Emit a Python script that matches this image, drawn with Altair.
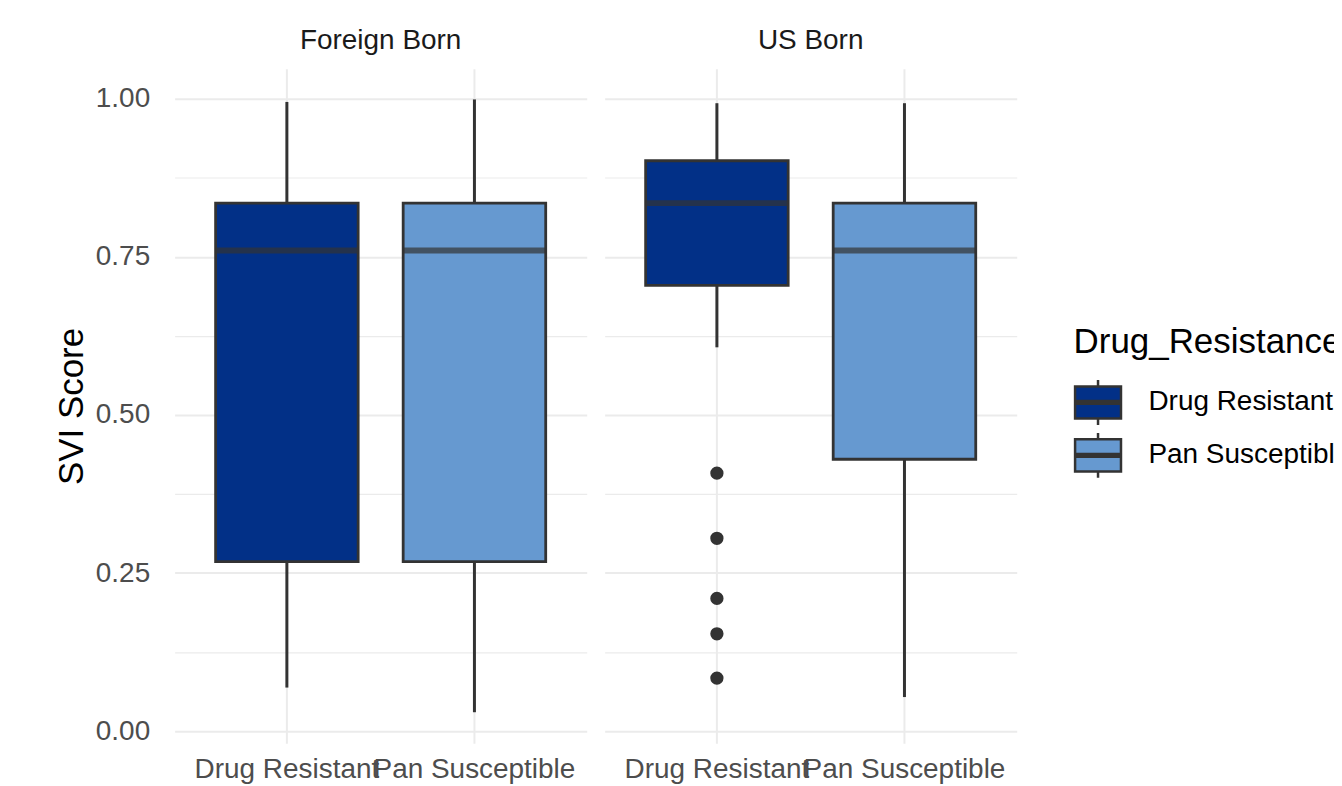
import altair as alt
import pandas as pd

# ---- data (box-plot statistics) ----
nativity = ["Foreign Born", "Foreign Born", "US Born", "US Born"]
resistance = ["Drug Resistant", "Pan Susceptible", "Drug Resistant", "Pan Susceptible"]
whisker_low = [0.069, 0.030, 0.607, 0.054]
q1 = [0.268, 0.268, 0.705, 0.430]
median = [0.760, 0.760, 0.835, 0.760]
q3 = [0.835, 0.835, 0.902, 0.835]
whisker_high = [0.995, 0.999, 0.993, 0.993]

outlier_nativity = ["US Born", "US Born", "US Born", "US Born", "US Born"]
outlier_resistance = ["Drug Resistant"] * 5
outlier_values = [0.408, 0.305, 0.210, 0.154, 0.084]

y_ticks = [0.0, 0.125, 0.25, 0.375, 0.5, 0.625, 0.75, 0.875, 1.0]
groups = ["Drug Resistant", "Pan Susceptible"]
colors = ["#023087", "#6699D0"]

boxes = pd.DataFrame({
    "kind": "box", "Nativity": nativity, "Drug_Resistance": resistance,
    "low": whisker_low, "q1": q1, "median": median, "q3": q3, "high": whisker_high,
})
outs = pd.DataFrame({
    "kind": "outlier", "Nativity": outlier_nativity,
    "Drug_Resistance": outlier_resistance, "value": outlier_values,
})
df = pd.concat([boxes, outs], ignore_index=True)

FONT = "Liberation Sans"
DARK = "#333333"
PANEL_W = 413
PANEL_H = 676
SMALL = 28
BIG = 35

yscale = alt.Scale(domain=[-0.019, 1.0475], nice=False, zero=False)
yaxis = alt.Axis(
    values=y_ticks,
    labelExpr="datum.value % 0.25 == 0 ? format(datum.value, '.2f') : ''",
    ticks=False, domain=False, grid=True, gridColor="#EBEBEB",
    gridWidth={"condition": {"test": "datum.value % 0.25 != 0", "value": 1.2}, "value": 2},
    labelFont=FONT, labelFontSize=SMALL, labelColor="#4D4D4D", labelPadding=25,
    titleFont=FONT, titleFontSize=BIG, titleColor="#000000", titleFontWeight="normal",
    titlePadding=6,
)


def ye(field):
    return alt.Y(field, type="quantitative", title="SVI Score", scale=yscale, axis=yaxis)


xenc = alt.X(
    "Drug_Resistance:N", title=None, sort=groups,
    scale=alt.Scale(paddingInner=0.24, paddingOuter=0.2185),
    axis=alt.Axis(
        labelAngle=0, labelFont=FONT, labelFontSize=SMALL, labelColor="#4D4D4D",
        labelLimit=400, labelOverlap=False, ticks=False, domain=False,
        grid=True, gridColor="#EBEBEB", gridWidth=2, bandPosition=0.5,
        labelPadding=12,
    ),
)

base = alt.Chart().encode(x=xenc)
box_data = base.transform_filter("datum.kind == 'box'")

whisk_lo = box_data.mark_rule(color=DARK, strokeWidth=3).encode(y=ye("low"), y2="q1:Q")
whisk_hi = box_data.mark_rule(color=DARK, strokeWidth=3).encode(y=ye("q3"), y2="high:Q")

legend_path = ("M-1,-0.7L1,-0.7L1,0.7L-1,0.7Z M-1,-0.06L1,-0.06 M-1,0L1,0 M-1,0.06L1,0.06 "
               "M0,-0.7L0,-0.98 M0,0.7L0,0.98")

box = box_data.mark_bar(stroke=DARK, strokeWidth=2.8).encode(
    y=ye("q1"), y2="q3:Q",
    color=alt.Color(
        "Drug_Resistance:N", sort=groups,
        scale=alt.Scale(domain=groups, range=colors),
        legend=alt.Legend(
            title="Drug_Resistance", orient="none", legendX=901, legendY=257,
            symbolType=legend_path, symbolSize=2116, symbolStrokeColor=DARK,
            symbolStrokeWidth=2.5,
            labelFont=FONT, labelFontSize=SMALL, labelColor="#000000", labelOffset=26,
            titleFont=FONT, titleFontSize=BIG, titleColor="#000000",
            titleFontWeight="normal", titlePadding=18, rowPadding=-15,
            labelLimit=400, titleLimit=400,
        ),
    ),
)

med = box_data.mark_tick(color=DARK, size=143, thickness=6).encode(y=ye("median"))

pts = base.transform_filter("datum.kind == 'outlier'").mark_circle(
    color=DARK, opacity=1, size=177
).encode(y=ye("value"))

chart = alt.layer(whisk_lo, whisk_hi, box, med, pts, data=df).properties(
    width=PANEL_W, height=PANEL_H
).facet(
    column=alt.Column(
        "Nativity:N", title=None,
        header=alt.Header(labelFont=FONT, labelFontSize=SMALL, labelColor="#1A1A1A",
                          labelPadding=14),
    ),
    spacing=18,
).properties(
    padding={"left": 46, "top": 18, "right": -17, "bottom": 0}
).configure_view(strokeOpacity=0)

chart.save("out.html", embed_options={"renderer": "svg", "actions": False})
